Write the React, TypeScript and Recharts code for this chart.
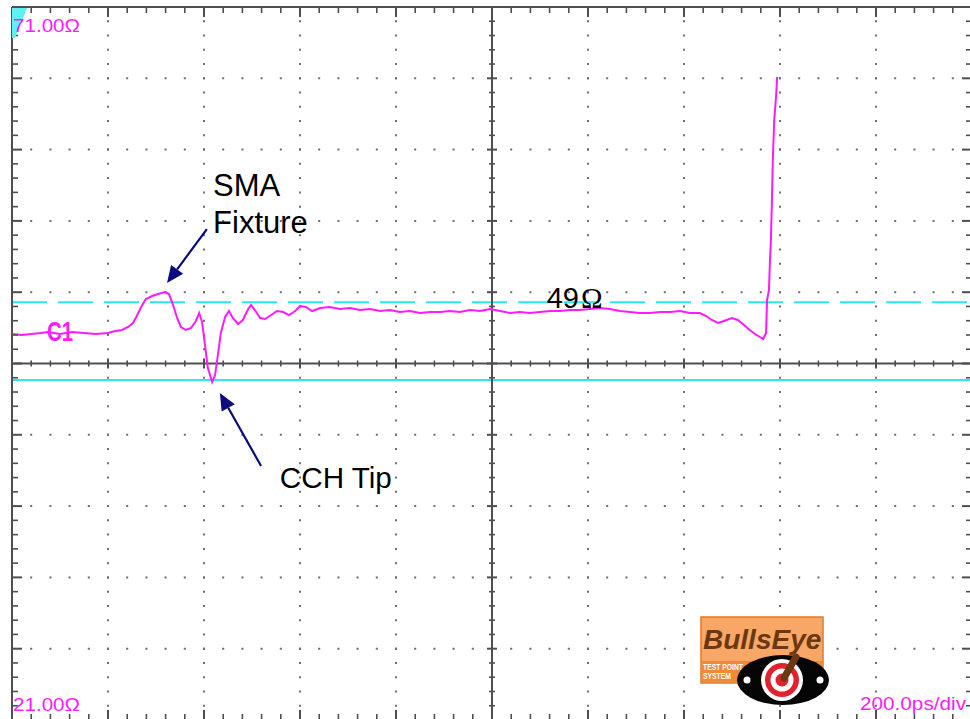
import React from 'react';
import { ComposedChart, Line, Scatter, XAxis, YAxis, ReferenceLine, ReferenceDot } from 'recharts';

// TDR screen: 200ps/div across, 5 ohm/div up, 10 x 10 divisions
const xDivs = [0, 200, 400, 600, 800, 1000, 1200, 1400, 1600, 1800, 2000];
const yDivs = [21, 26, 31, 36, 41, 46, 51, 56, 61, 66, 71];

// trace C1, time in ps, impedance in ohm
const traceT = [
  0, 20, 40, 60, 75, 100, 125, 150, 175, 200, 215, 229, 242, 252, 260, 269, 279, 292, 304, 319,
  327, 335, 344, 352, 362, 373, 383, 390, 396, 402, 408, 417, 423, 429, 435, 444, 452, 460, 471, 481,
  492, 498, 506, 517, 527, 540, 552, 565, 577, 590, 600, 612, 625, 642, 662, 683, 704, 725, 746, 767,
  787, 808, 829, 850, 871, 892, 912, 933, 954, 975, 996, 1017, 1037, 1058, 1079, 1100, 1121, 1142, 1162, 1183,
  1204, 1225, 1246, 1267, 1287, 1308, 1329, 1350, 1371, 1392, 1412, 1433, 1446, 1458, 1471, 1483, 1500, 1512, 1525, 1537,
  1548, 1558, 1565, 1571, 1573, 1577, 1579, 1581, 1583, 1585, 1588, 1592, 1594,
];
const traceV = [
  48.07, 48.0, 48.07, 48.14, 48.21, 48.07, 48.21, 48.14, 48.07, 48.14, 48.28, 48.35, 48.56, 48.84, 49.33, 49.96, 50.52, 50.73, 50.87, 51.01,
  50.87, 50.17, 49.19, 48.56, 48.35, 48.49, 48.98, 49.54, 48.91, 47.3, 45.68, 44.7, 45.19, 46.6, 48.14, 49.26, 49.68, 49.19, 48.77, 49.05,
  49.82, 50.1, 49.75, 49.19, 49.12, 49.4, 49.68, 49.61, 49.4, 49.68, 50.03, 49.96, 49.68, 49.89, 49.96, 49.82, 49.89, 49.75, 49.82, 49.68,
  49.75, 49.61, 49.68, 49.54, 49.61, 49.61, 49.68, 49.61, 49.75, 49.68, 49.82, 49.68, 49.54, 49.61, 49.54, 49.61, 49.68, 49.68, 49.75, 49.75,
  49.82, 49.89, 49.82, 49.68, 49.61, 49.54, 49.54, 49.61, 49.61, 49.68, 49.54, 49.54, 49.33, 49.05, 48.84, 48.98, 49.19, 49.05, 48.7, 48.35,
  48.07, 47.86, 47.72, 48.14, 50.45, 51.15, 53.12, 54.66, 57.11, 60.27, 63.08, 64.83, 66.09,
];

// cursor lines
const refDashed = 50.3;
const refSolid = 44.85;

const trace = traceT.map((t, i) => ({ t, v: traceV[i] }));

const MAGENTA = '#ff1aff';
const CYAN = '#2ee6f2';
const FRAME = '#4f4f4f';
const DOT = '#6e6e6e';
const NAVY = '#0b0b7e';
const SANS = '"Liberation Sans", Arial, sans-serif';

const W = 980;
const H = 730;
const margin = { top: 7, left: 12, right: 8, bottom: 10 };
const plotW = W - margin.left - margin.right;
const plotH = H - margin.top - margin.bottom;
const stepX = plotW / 50;
const stepY = plotH / 50;

const xMin = xDivs[0];
const xMax = xDivs[xDivs.length - 1];
const yMin = yDivs[0];
const yMax = yDivs[yDivs.length - 1];
const xMid = xDivs[5];
const yMid = yDivs[5];

const subdivide = (divs: number[]) =>
  divs.flatMap((d, i) => (i === divs.length - 1 ? [d] : [0, 1, 2, 3, 4].map((k) => d + ((divs[i + 1] - d) * k) / 5)));
const minorX = subdivide(xDivs);
const minorY = subdivide(yDivs);

const topTicks = minorX.map((t) => ({ t, v: yMax, major: xDivs.includes(t) }));
const bottomTicks = minorX.map((t) => ({ t, v: yMin, major: xDivs.includes(t) }));
const leftTicks = minorY.map((v) => ({ t: xMin, v, major: yDivs.includes(v) }));
const rightTicks = minorY.map((v) => ({ t: xMax, v, major: yDivs.includes(v) }));
const midHTicks = minorX.map((t) => ({ t, v: yMid, major: xDivs.includes(t) }));
const midVTicks = minorY.map((v) => ({ t: xMid, v, major: yDivs.includes(v) }));

const tick = (dx: number, dy: number, both = false) => (p: any) => {
  const { cx, cy, payload } = p;
  const len = payload.major ? (both ? 5 : 10) : both ? 3 : 6;
  return (
    <line
      x1={both ? cx - dx * len : cx}
      y1={both ? cy - dy * len : cy}
      x2={cx + dx * len}
      y2={cy + dy * len}
      stroke={FRAME}
      strokeWidth={payload.major ? 2 : 1.6}
    />
  );
};

const arrowShape = (p: any) => {
  const { x1, y1, x2, y2 } = p;
  const ang = Math.atan2(y2 - y1, x2 - x1);
  const head = 17;
  const half = 7.5;
  const bx = x2 - head * Math.cos(ang);
  const by = y2 - head * Math.sin(ang);
  const nx = -Math.sin(ang) * half;
  const ny = Math.cos(ang) * half;
  return (
    <g>
      <line x1={x1} y1={y1} x2={bx} y2={by} stroke={NAVY} strokeWidth={2.2} />
      <polygon points={`${x2},${y2} ${bx + nx},${by + ny} ${bx - nx},${by - ny}`} fill={NAVY} />
    </g>
  );
};

// annotation anchors (data coords)
const smaNote = { t: 419, v: 57.75 };
const cchNote = { t: 558, v: 37.27 };
const ohmNote = { t: 1114, v: 49.89 };
const c1Note = { t: 73, v: 47.58 };
const smaArrow = [{ x: 406, y: 55.43 }, { x: 323, y: 51.64 }];
const cchArrow = [{ x: 519, y: 38.81 }, { x: 433, y: 43.93 }];

const Logo = () => (
  <svg width={132} height={92} style={{ position: 'absolute', left: 700, top: 616 }}>
    <rect x={1} y={1} width={122} height={66} fill="#f8a766" stroke="#e07a2a" strokeWidth={1.5} />
    <rect x={1.5} y={45} width={121} height={21.5} fill="#f08a3a" />
    <text x={3} y={33} fontFamily={SANS} fontWeight="bold" fontStyle="italic" fontSize={28} fill="#6b3812">
      BullsEye
    </text>
    <text x={3} y={54} fontFamily={SANS} fontWeight="bold" fontSize={9} fill="#fff" textLength={40} lengthAdjust="spacingAndGlyphs">
      TEST POINT
    </text>
    <text x={3} y={63} fontFamily={SANS} fontWeight="bold" fontSize={9} fill="#fff" textLength={28} lengthAdjust="spacingAndGlyphs">
      SYSTEM
    </text>
    <ellipse cx={83} cy={64} rx={46} ry={25} fill="#050505" />
    <circle cx={47} cy={64} r={3.5} fill="#fff" />
    <circle cx={120} cy={64} r={3.5} fill="#fff" />
    <circle cx={82} cy={64} r={21} fill="#fff" />
    <circle cx={82} cy={64} r={17} fill="#e3202b" />
    <circle cx={82} cy={64} r={11.5} fill="#fff" />
    <circle cx={82} cy={64} r={6.5} fill="#e3202b" />
    <line x1={96} y1={41} x2={84} y2={62} stroke="#6b3812" strokeWidth={7} strokeLinecap="round" />
  </svg>
);

export default function App() {
  return (
    <div style={{ position: 'absolute', left: 0, top: 0, width: 970, height: 719, overflow: 'hidden', background: '#fff' }}>
      <ComposedChart width={W} height={H} margin={margin}>
        <XAxis type="number" dataKey="t" domain={[xMin, xMax]} ticks={xDivs} allowDataOverflow hide />
        <YAxis type="number" dataKey="v" domain={[yMin, yMax]} ticks={yDivs} allowDataOverflow hide />

        {yDivs.filter((v) => v !== yMin && v !== yMax && v !== yMid).map((v) => (
          <ReferenceLine key={'gy' + v} y={v} stroke={DOT} strokeWidth={2} strokeDasharray={`2 ${stepX - 2}`} strokeDashoffset={1} />
        ))}
        {xDivs.filter((t) => t !== xMin && t !== xMax && t !== xMid).map((t) => (
          <ReferenceLine key={'gx' + t} x={t} stroke={DOT} strokeWidth={2} strokeDasharray={`2 ${stepY - 2}`} strokeDashoffset={1} />
        ))}

        <ReferenceLine y={refDashed} stroke={CYAN} strokeWidth={2} strokeDasharray="35 11" />
        <ReferenceLine y={refSolid} stroke={CYAN} strokeWidth={2} />

        <ReferenceLine y={yMid} stroke={FRAME} strokeWidth={2} />
        <ReferenceLine x={xMid} stroke={FRAME} strokeWidth={2} />
        <ReferenceLine y={yMax} stroke={FRAME} strokeWidth={2} ifOverflow="visible" />
        <ReferenceLine y={yMin} stroke={FRAME} strokeWidth={2} ifOverflow="visible" />
        <ReferenceLine x={xMin} stroke={FRAME} strokeWidth={2} ifOverflow="visible" />
        <ReferenceLine x={xMax} stroke={FRAME} strokeWidth={2} ifOverflow="visible" />

        <Scatter data={topTicks} dataKey="v" shape={tick(0, 1)} isAnimationActive={false} />
        <Scatter data={bottomTicks} dataKey="v" shape={tick(0, -1)} isAnimationActive={false} />
        <Scatter data={leftTicks} dataKey="v" shape={tick(1, 0)} isAnimationActive={false} />
        <Scatter data={rightTicks} dataKey="v" shape={tick(-1, 0)} isAnimationActive={false} />
        <Scatter data={midHTicks} dataKey="v" shape={tick(0, 1, true)} isAnimationActive={false} />
        <Scatter data={midVTicks} dataKey="v" shape={tick(1, 0, true)} isAnimationActive={false} />

        <Line data={trace} dataKey="v" type="linear" stroke={MAGENTA} strokeWidth={2} dot={false} isAnimationActive={false} />

        <ReferenceDot
          x={xMin}
          y={yMax}
          r={0}
          ifOverflow="visible"
          shape={(p: any) => (
            <g>
              <polygon points={`${p.cx},${p.cy + 1} ${p.cx + 15},${p.cy + 1} ${p.cx + 3},${p.cy + 31} ${p.cx},${p.cy + 31}`} fill="#5ff0f5" />
              <text x={p.cx + 1} y={p.cy + 25} fontFamily={SANS} fontSize={19} fill={MAGENTA} textLength={67} lengthAdjust="spacingAndGlyphs">
                71.00Ω
              </text>
            </g>
          )}
        />
        <ReferenceDot
          x={xMin}
          y={yMin}
          r={0}
          ifOverflow="visible"
          shape={(p: any) => (
            <text x={p.cx + 1} y={p.cy - 9} fontFamily={SANS} fontSize={19} fill={MAGENTA} textLength={67} lengthAdjust="spacingAndGlyphs">
              21.00Ω
            </text>
          )}
        />
        <ReferenceDot
          x={xMax}
          y={yMin}
          r={0}
          ifOverflow="visible"
          shape={(p: any) => (
            <text x={p.cx - 112} y={p.cy - 10} fontFamily={SANS} fontSize={19} fill={MAGENTA} textLength={106} lengthAdjust="spacingAndGlyphs">
              200.0ps/div
            </text>
          )}
        />
        <ReferenceDot
          x={c1Note.t}
          y={c1Note.v}
          r={0}
          ifOverflow="visible"
          shape={(p: any) => (
            <text x={p.cx} y={p.cy} fontFamily={SANS} fontWeight="bold" fontSize={27} fill={MAGENTA} textLength={26} lengthAdjust="spacingAndGlyphs">
              C1
            </text>
          )}
        />
        <ReferenceDot
          x={ohmNote.t}
          y={ohmNote.v}
          r={0}
          ifOverflow="visible"
          shape={(p: any) => (
            <text x={p.cx} y={p.cy} fontFamily={SANS} fontSize={29} fill="#000">
              49<tspan dx={2} fontFamily='"Liberation Serif", serif'>Ω</tspan>
            </text>
          )}
        />
        <ReferenceDot
          x={smaNote.t}
          y={smaNote.v}
          r={0}
          ifOverflow="visible"
          shape={(p: any) => (
            <text x={p.cx} y={p.cy} fontFamily={SANS} fontSize={31} fill="#000">
              <tspan x={p.cx}>SMA</tspan>
              <tspan x={p.cx} dy={37}>Fixture</tspan>
            </text>
          )}
        />
        <ReferenceDot
          x={cchNote.t}
          y={cchNote.v}
          r={0}
          ifOverflow="visible"
          shape={(p: any) => (
            <text x={p.cx} y={p.cy} fontFamily={SANS} fontSize={30} fill="#000" textLength={112} lengthAdjust="spacingAndGlyphs">
              CCH Tip
            </text>
          )}
        />
        <ReferenceLine segment={smaArrow} ifOverflow="visible" shape={arrowShape} />
        <ReferenceLine segment={cchArrow} ifOverflow="visible" shape={arrowShape} />
      </ComposedChart>
      <Logo />
    </div>
  );
}
